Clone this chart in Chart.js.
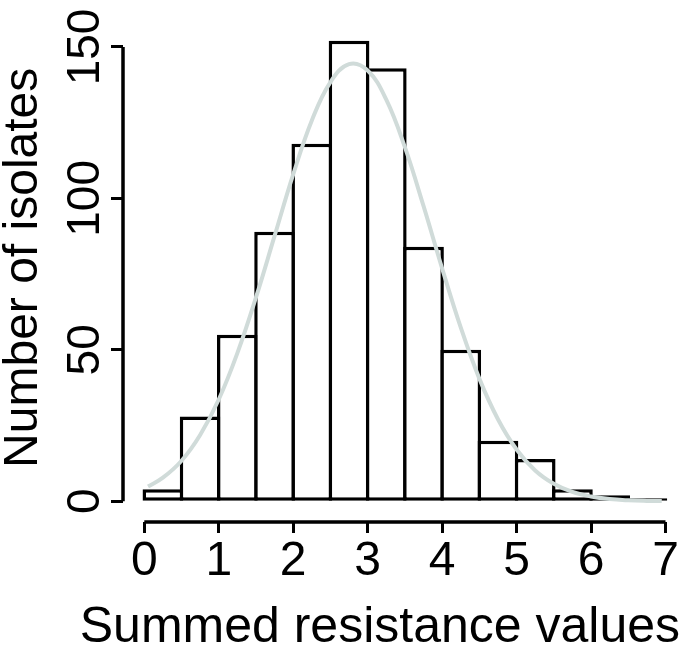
<!DOCTYPE html>
<html>
<head>
<meta charset="utf-8">
<script src="https://cdn.jsdelivr.net/npm/chart.js@4/dist/chart.umd.min.js"></script>
<style>
  html, body { margin: 0; padding: 0; background: #fff; }
  #wrap { width: 685px; height: 665px; position: relative; }
</style>
</head>
<body>
<div id="wrap"><canvas id="hist"></canvas></div>
<script>
// ── data ─────────────────────────────────────────────────────────────────────
const binCenters = [0.25, 0.75, 1.25, 1.75, 2.25, 2.75, 3.25, 3.75, 4.25, 4.75, 5.25, 5.75, 6.25, 6.75];
const binCounts  = [4, 28, 55, 89, 118, 152, 143, 84, 50, 20, 14, 4, 2, 1];

const curveX = [0.05, 0.25, 0.5, 0.75, 1, 1.25, 1.5, 1.75, 2, 2.25, 2.5, 2.75, 3, 3.25, 3.5,
                3.75, 4, 4.25, 4.5, 4.75, 5, 5.25, 5.5, 5.75, 6, 6.25, 6.5, 6.75, 6.95];
const curveY = [4.9, 7.8, 13.4, 21.9, 33.6, 48.9, 67.3, 87.6, 107.9, 125.7, 138.4, 144.3, 142.2, 132.6, 116.9,
                97.5, 76.9, 57.4, 40.5, 27.1, 17.1, 10.2, 5.8, 3.1, 1.6, 0.75, 0.34, 0.14, 0.07];

const xTicks = [0, 1, 2, 3, 4, 5, 6, 7];
const yTicks = [0, 50, 100, 150];

const xTitle = "Summed resistance values";
const yTitle = "Number of isolates";

// ── style ────────────────────────────────────────────────────────────────────
const FONT  = "'Liberation Sans', Arial, Helvetica, sans-serif";
const INK   = "#000000";
const CURVE = "#d0dbd9";
const LW    = 3.5;

// R-style axis lines: only span first..last tick, detached from the plot box
const rAxes = {
    id: "rAxes",
    afterDraw(chart) {
        const { ctx, scales: { x, y } } = chart;
        ctx.save();
        ctx.strokeStyle = INK;
        ctx.lineWidth = LW;
        ctx.beginPath();
        ctx.moveTo(x.getPixelForValue(xTicks[0]), x.top);
        ctx.lineTo(x.getPixelForValue(xTicks[xTicks.length - 1]), x.top);
        ctx.moveTo(y.right, y.getPixelForValue(yTicks[0]));
        ctx.lineTo(y.right, y.getPixelForValue(yTicks[yTicks.length - 1]));
        ctx.stroke();
        ctx.restore();
    },
};

new Chart(document.getElementById("hist").getContext("2d"), {
    data: {
        datasets: [
            {
                type: "line",
                data: curveX.map((v, i) => ({ x: v, y: curveY[i] })),
                borderColor: CURVE,
                borderWidth: 4,
                pointRadius: 0,
                tension: 0.4,
                fill: false,
                clip: false,
                order: 0,
            },
            {
                type: "bar",
                data: binCenters.map((v, i) => ({ x: v, y: binCounts[i] })),
                backgroundColor: "#ffffff",
                borderColor: INK,
                borderWidth: LW,
                borderSkipped: false,
                categoryPercentage: 1,
                barPercentage: 1.094,   // neighbours overlap by one border width
                clip: false,
                order: 1,
            },
        ],
    },
    options: {
        responsive: true,
        maintainAspectRatio: false,
        animation: false,
        layout: { padding: { top: 6, right: 5, left: 0, bottom: 0 } },
        plugins: {
            legend: { display: false },
            tooltip: { enabled: false },
            title: {
                display: true,
                text: xTitle,
                position: "bottom",
                align: "end",
                color: INK,
                font: { family: FONT, size: 50, weight: "normal", lineHeight: 1.2 },
                padding: { top: 0, bottom: 7 },
            },
        },
        scales: {
            x: {
                type: "linear",
                min: -0.286,
                max: 7.195,
                offset: false,
                afterBuildTicks: (s) => { s.ticks = xTicks.map((v) => ({ value: v })); },
                afterFit: (s) => { s.height = 76; },
                border: { display: false },
                grid: { offset: false, drawOnChartArea: false, drawTicks: true, tickLength: 11, tickWidth: 3, tickColor: INK },
                ticks: { color: INK, font: { family: FONT, size: 48 }, padding: 0, maxRotation: 0, autoSkip: false },
            },
            y: {
                type: "linear",
                min: -6.83,
                max: 161,
                afterBuildTicks: (s) => { s.ticks = yTicks.map((v) => ({ value: v })); },
                afterFit: (s) => { s.width = 123; },
                border: { display: false },
                grid: { drawOnChartArea: false, drawTicks: true, tickLength: 12, tickWidth: 3, tickColor: INK },
                ticks: { color: INK, font: { family: FONT, size: 46 }, padding: -14, minRotation: 90, maxRotation: 90, crossAlign: "center", autoSkip: false },
                title: { display: true, text: yTitle, color: INK, font: { family: FONT, size: 48, lineHeight: 1 }, padding: { top: 0, bottom: 0 } },
            },
        },
    },
    plugins: [rAxes],
});
</script>
</body>
</html>
